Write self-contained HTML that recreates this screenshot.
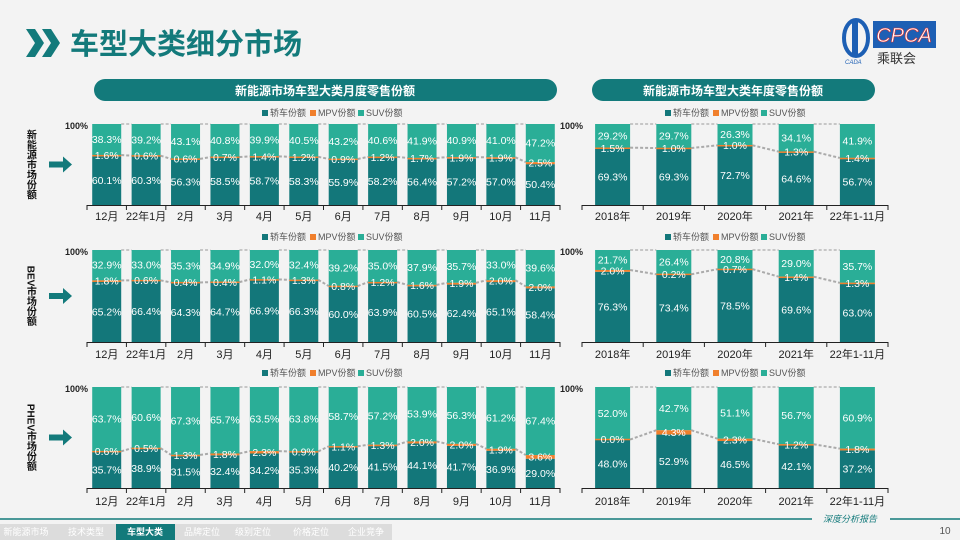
<!DOCTYPE html>
<html><head><meta charset="utf-8">
<style>
html,body{margin:0;padding:0;}
body{width:960px;height:540px;overflow:hidden;background:#f3f3f3;font-family:"Liberation Sans","Noto Sans CJK SC",sans-serif;}
svg{display:block;}
text{font-family:"Liberation Sans","Noto Sans CJK SC",sans-serif;}
</style></head>
<body>
<svg id="s" width="960" height="540" viewBox="0 0 960 540">
  <rect x="0" y="0" width="960" height="540" fill="#f3f3f3"/>
  <g>
    <polygon points="26,29 35,29 44,43 35,57 26,57 35,43" fill="#137a7b"/>
    <polygon points="42,29 51,29 60,43 51,57 42,57 51,43" fill="#137a7b"/>
    <text x="70" y="54" font-size="29" font-weight="bold" fill="#137a7b">车型大类细分市场</text>
  </g>
  <g>
    <ellipse cx="856" cy="38" rx="12" ry="18" fill="none" stroke="#1d5fb4" stroke-width="4"/>
    <rect x="852" y="22" width="6" height="32" fill="#1d5fb4"/>
    <text x="845" y="64" font-size="6" fill="#1d5fb4" font-style="italic">CADA</text>
    <rect x="873" y="21" width="63" height="27" fill="#1d5fb4"/>
    <text x="904" y="42" font-size="20" font-style="italic" fill="#fff" text-anchor="middle" stroke="#d33" stroke-width="0.6">CPCA</text>
    <text x="877" y="63" font-size="13" fill="#333">乘联会</text>
  </g>
  <g>
    <rect x="94" y="79" width="463" height="22" rx="11" fill="#137a7b"/>
    <text x="325" y="95" font-size="12" font-weight="bold" fill="#fff" text-anchor="middle">新能源市场车型大类月度零售份额</text>
  </g>
  <g>
    <rect x="592" y="79" width="283" height="22" rx="11" fill="#137a7b"/>
    <text x="733" y="95" font-size="12" font-weight="bold" fill="#fff" text-anchor="middle">新能源市场车型大类年度零售份额</text>
  </g>
  <g id="charts"></g>
  <g>
    <line x1="0" y1="519" x2="812" y2="519" stroke="#137a7b" stroke-width="1.5"/>
    <line x1="890" y1="519" x2="960" y2="519" stroke="#137a7b" stroke-width="1.5"/>
    <text x="850" y="522" font-size="9" font-style="italic" fill="#137a7b" text-anchor="middle">深度分析报告</text>
    <text x="945" y="534" font-size="10" fill="#555" text-anchor="middle">10</text>
    <rect x="0" y="524" width="392" height="16" fill="#dcdcdc"/>
    <rect x="116" y="524" width="59" height="16" fill="#137a7b"/>
    <g font-size="9" fill="#fff" text-anchor="middle">
      <text x="26" y="535">新能源市场</text>
      <text x="86" y="535">技术类型</text>
      <text x="145" y="535" font-weight="bold">车型大类</text>
      <text x="202" y="535">品牌定位</text>
      <text x="253" y="535">级别定位</text>
      <text x="311" y="535">价格定位</text>
      <text x="366" y="535">企业竞争</text>
    </g>
  </g>
</svg>
<script>
const monthCats = ["12月","22年1月","2月","3月","4月","5月","6月","7月","8月","9月","10月","11月"];
const yearCats = ["2018年","2019年","2020年","2021年","22年1-11月"];
const nevSedan = [60.1,60.3,56.3,58.5,58.7,58.3,55.9,58.2,56.4,57.2,57.0,50.4];
const nevMpv = [1.6,0.6,0.6,0.7,1.4,1.2,0.9,1.2,1.7,1.9,1.9,2.5];
const nevSuv = [38.3,39.2,43.1,40.8,39.9,40.5,43.2,40.6,41.9,40.9,41.0,47.2];
const bevSedan = [65.2,66.4,64.3,64.7,66.9,66.3,60.0,63.9,60.5,62.4,65.1,58.4];
const bevMpv = [1.8,0.6,0.4,0.4,1.1,1.3,0.8,1.2,1.6,1.9,2.0,2.0];
const bevSuv = [32.9,33.0,35.3,34.9,32.0,32.4,39.2,35.0,37.9,35.7,33.0,39.6];
const phevSedan = [35.7,38.9,31.5,32.4,34.2,35.3,40.2,41.5,44.1,41.7,36.9,29.0];
const phevMpv = [0.6,0.5,1.3,1.8,2.3,0.9,1.1,1.3,2.0,2.0,1.9,3.6];
const phevSuv = [63.7,60.6,67.3,65.7,63.5,63.8,58.7,57.2,53.9,56.3,61.2,67.4];
const yNevSedan = [69.3,69.3,72.7,64.6,56.7];
const yNevMpv = [1.5,1.0,1.0,1.3,1.4];
const yNevSuv = [29.2,29.7,26.3,34.1,41.9];
const yBevSedan = [76.3,73.4,78.5,69.6,63.0];
const yBevMpv = [2.0,0.2,0.7,1.4,1.3];
const yBevSuv = [21.7,26.4,20.8,29.0,35.7];
const yPhevSedan = [48.0,52.9,46.5,42.1,37.2];
const yPhevMpv = [0.0,4.3,2.3,1.2,1.8];
const yPhevSuv = [52.0,42.7,51.1,56.7,60.9];
const seriesNames = ["轿车份额","MPV份额","SUV份额"];
const rowTitles = ["新能源市场份额","BEV市场份额","PHEV市场份额"];

const NS = "http://www.w3.org/2000/svg";
const root = document.getElementById("charts");
const C_SED = "#13777a", C_MPV = "#f07f2c", C_SUV = "#2aae97";
function mk(tag, attrs, parent){
  const e = document.createElementNS(NS, tag);
  for (const k in attrs) e.setAttribute(k, attrs[k]);
  (parent||root).appendChild(e);
  return e;
}
function txt(x,y,s,size,fill,anchor,parent,extra){
  const t = mk("text",Object.assign({x:x,y:y,"font-size":size,fill:fill,"text-anchor":anchor||"middle"},extra||{}),parent);
  t.textContent = s;
  return t;
}
function legend(g, x, y){
  const cols=[C_SED,C_MPV,C_SUV];
  const offs=[0,48,96];
  for(let i=0;i<3;i++){
    const lg = mk("g",{},g);
    
    
    mk("rect",{x:x+offs[i],y:y-6,width:6,height:6,fill:cols[i]},lg);
    txt(x+offs[i]+8,y,seriesNames[i],9,"#555","start",lg);
  }
}
function panel(name, cats, sed, mpv, suv, x0, x1, top, bot, barW, labY, legX, legY){
  const g = mk("g",{});
  
  
  const n = cats.length, cw = (x1-x0)/n;
  const xc = i => x0 + cw*(i+0.5);
  const y = v => bot - v/100*(bot-top);
  legend(g, legX, legY);
  for(let i=0;i<n-1;i++){
    const xa = xc(i)+barW/2, xb = xc(i+1)-barW/2;
    const c1 = mk("line",{x1:xa,y1:y(100),x2:xb,y2:y(100),stroke:"#999","stroke-width":1,"stroke-dasharray":"3,2"},g);
    
    
    const c2 = mk("line",{x1:xa,y1:y(sed[i]+mpv[i]),x2:xb,y2:y(sed[i+1]+mpv[i+1]),stroke:"#aaa","stroke-width":2,"stroke-dasharray":"3,2"},g);
    
    
  }
  for(let i=0;i<n;i++){
    const bx = xc(i)-barW/2;
    const r1 = mk("rect",{x:bx,y:y(sed[i]),width:barW,height:y(0)-y(sed[i]),fill:C_SED},g);
    
    
    const r3 = mk("rect",{x:bx,y:y(100),width:barW,height:y(sed[i]+mpv[i])-y(100),fill:C_SUV},g);
    
    
    const mh = Math.max(y(sed[i])-y(sed[i]+mpv[i]),1.5);
    const r2 = mk("rect",{x:bx,y:y(sed[i]+mpv[i])-(mh-(y(sed[i])-y(sed[i]+mpv[i])))/2,width:barW,height:mh,fill:C_MPV},g);
    
    
    txt(xc(i),(y(0)+y(sed[i]))/2+3.5,sed[i].toFixed(1)+"%",10.5,"#fff","middle",g);
    txt(xc(i),(y(sed[i])+y(sed[i]+mpv[i]))/2+3.5,mpv[i].toFixed(1)+"%",10.5,"#fff","middle",g);
    txt(xc(i),(y(100)+y(sed[i]+mpv[i]))/2+3.5,suv[i].toFixed(1)+"%",10.5,"#fff","middle",g);
    const lb = txt(xc(i),labY,cats[i],11,"#222","middle",g);
    
    
  }
  const ax = mk("line",{x1:x0,y1:bot+0.5,x2:x1,y2:bot+0.5,stroke:"#222","stroke-width":1},g);
  
  
  for(let i=0;i<=n;i++) mk("line",{x1:x0+cw*i,y1:bot,x2:x0+cw*i,y2:bot+5,stroke:"#222","stroke-width":1},g);
  const yl = txt(x0+1,top+5,"100%",9,"#222","end",g,{"font-weight":"bold"});
  
  
}
const tops=[124,250,387], bots=[205,342,488], labs=[220,358,505], legs=[116,240,376];
const data=[[nevSedan,nevMpv,nevSuv,yNevSedan,yNevMpv,yNevSuv],[bevSedan,bevMpv,bevSuv,yBevSedan,yBevMpv,yBevSuv],[phevSedan,phevMpv,phevSuv,yPhevSedan,yPhevMpv,yPhevSuv]];
const rowNames=["nev","bev","phev"];
for(let r=0;r<3;r++){
  const d=data[r];
  panel(rowNames[r]+"-monthly-chart",monthCats,d[0],d[1],d[2],87,560,tops[r],bots[r],29,labs[r],262,legs[r]);
  panel(rowNames[r]+"-annual-chart",yearCats,d[3],d[4],d[5],582,888,tops[r],bots[r],35,labs[r],665,legs[r]);
  const mid=(tops[r]+bots[r])/2;
  const t = txt(30,mid,rowTitles[r],10,"#111","middle",null,{"font-weight":"bold","writing-mode":"tb","dominant-baseline":"middle"});
  
  
  const a = mk("path",{d:`M49 ${mid-3} H63 V${mid-8} L72 ${mid} L63 ${mid+8} V${mid+3} H49 Z`,fill:"#137a7b"});
  
  
}
</script>
</body></html>
